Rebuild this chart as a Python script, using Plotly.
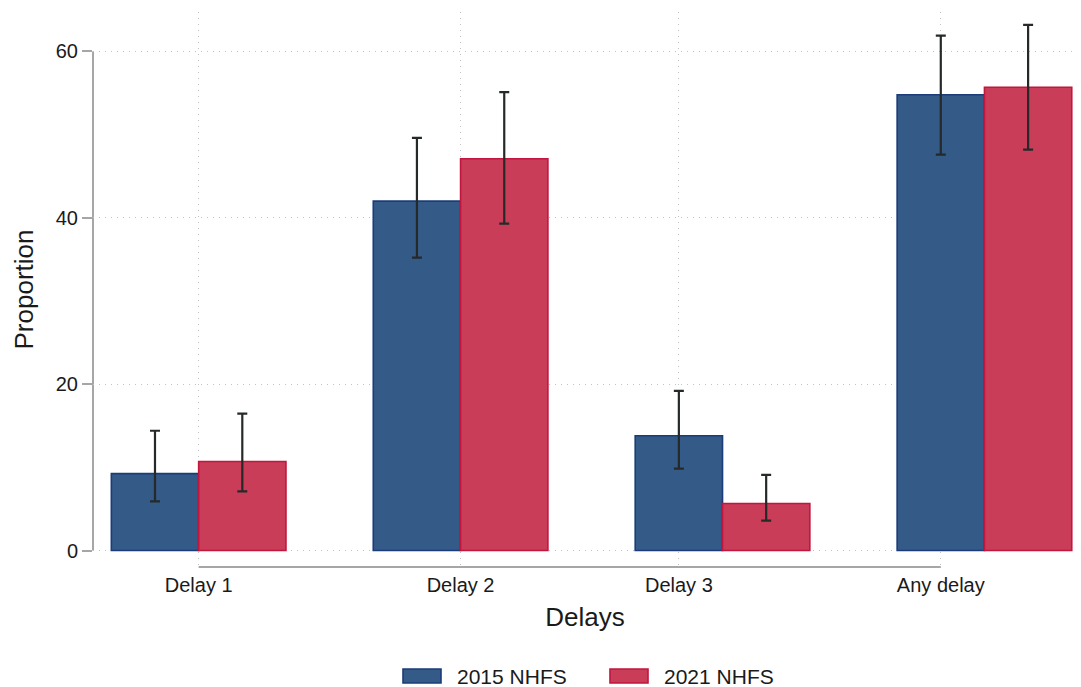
import plotly.graph_objects as go

# ---- data ----
categories = ["Delay 1", "Delay 2", "Delay 3", "Any delay"]
series_names = ["2015 NHFS", "2021 NHFS"]
values_2015 = [9.25, 42.0, 13.8, 54.8]
lower_2015 = [5.9, 35.2, 9.85, 47.6]
upper_2015 = [14.4, 49.6, 19.2, 61.9]
values_2021 = [10.7, 47.1, 5.65, 55.7]
lower_2021 = [7.1, 39.3, 3.6, 48.2]
upper_2021 = [16.45, 55.1, 9.1, 63.2]
y_ticks = [0, 20, 40, 60]
# x positions of the category labels (as in the original Stata layout)
label_pos = [1.5, 4.5, 7, 10]

# ---- layout helpers ----
n = len(categories)
x_2015 = [3 * i + 1 for i in range(n)]
x_2021 = [3 * i + 2 for i in range(n)]

OFF = 8  # page body margin
W, H = 1081 - OFF, 687 - OFF
# plot area in page pixels: left 93, right 1077, top 12, bottom 567
ML, MR, MT, MB = 93 - OFF, W - (1077 - OFF), 12 - OFF, H - (567 - OFF)
PW, PH = W - ML - MR, H - MT - MB

def px(x):  # page pixel -> paper x
    return (x - OFF - ML) / PW

def py(y):  # page pixel -> paper y
    return (H - MB - (y - OFF)) / PH

FONT = "Liberation Sans, Arial, sans-serif"
blue_fill, blue_line = "#345a88", "#1b3c78"
red_fill, red_line = "#c93d59", "#c1163d"
err_color = "#252a28"
grid_color = "#c2c2c2"
axis_color = "#a6a6a6"

def err_arrays(v, lo, hi):
    return [h - a for a, h in zip(v, hi)], [a - l for a, l in zip(v, lo)]

fig = go.Figure()
for xs, v, lo, hi, name, fc, lc in [
    (x_2015, values_2015, lower_2015, upper_2015, series_names[0], blue_fill, blue_line),
    (x_2021, values_2021, lower_2021, upper_2021, series_names[1], red_fill, red_line),
]:
    up, dn = err_arrays(v, lo, hi)
    fig.add_trace(go.Bar(
        x=xs, y=v, width=1, name=name, showlegend=False,
        marker=dict(color=fc, line=dict(color=lc, width=1.6)),
        error_y=dict(type="data", symmetric=False, array=up, arrayminus=dn,
                     color=err_color, thickness=2.2, width=5),
    ))

shapes = [
    dict(type="line", xref="paper", x0=0, x1=0, yref="y",
         y0=min(y_ticks), y1=max(y_ticks),
         line=dict(color=axis_color, width=2), layer="below"),
    dict(type="line", xref="x", x0=label_pos[0], x1=label_pos[-1], yref="paper",
         y0=0, y1=0, line=dict(color=axis_color, width=2), layer="below"),
]
annotations = []
# custom legend (wide swatches as in the original)
legend_items = [(series_names[0], blue_fill, blue_line, 403),
                (series_names[1], red_fill, red_line, 610)]
for name, fc, lc, x0 in legend_items:
    shapes.append(dict(type="rect", xref="paper", yref="paper",
                       x0=px(x0), x1=px(x0 + 38), y0=py(683), y1=py(669),
                       fillcolor=fc, line=dict(color=lc, width=1.6)))
    annotations.append(dict(xref="paper", yref="paper", x=px(x0 + 52), y=py(676.5),
                            xanchor="left", yanchor="middle", showarrow=False,
                            text=name, font=dict(size=21, family=FONT, color="#1a1a1a")))

fig.update_layout(
    width=W, height=H,
    margin=dict(l=ML, r=MR, t=MT, b=MB),
    paper_bgcolor="white", plot_bgcolor="white",
    font=dict(family=FONT, color="#1a1a1a"),
    barmode="overlay",
    showlegend=False,
    shapes=shapes,
    annotations=annotations,
)
fig.update_xaxes(
    range=[0.29, 11.56], tickvals=label_pos, ticktext=categories,
    showgrid=True, gridcolor=grid_color, griddash="1px,5px", gridwidth=1,
    zeroline=False, showline=False, ticks="", automargin=False,
    tickfont=dict(size=20, family=FONT), ticklabelstandoff=4,
    title=dict(text="Delays", font=dict(size=26, family=FONT), standoff=12),
)
fig.update_yaxes(
    range=[-1.98, 64.74], tickvals=y_ticks,
    showgrid=True, gridcolor=grid_color, griddash="1px,5px", gridwidth=1,
    zeroline=False, showline=False, automargin=False,
    ticks="outside", ticklen=10, tickwidth=1.5, tickcolor=axis_color,
    tickfont=dict(size=20, family=FONT), ticklabelstandoff=0,
    title=dict(text="Proportion", font=dict(size=26, family=FONT), standoff=14),
)

fig.write_html("out.html")
